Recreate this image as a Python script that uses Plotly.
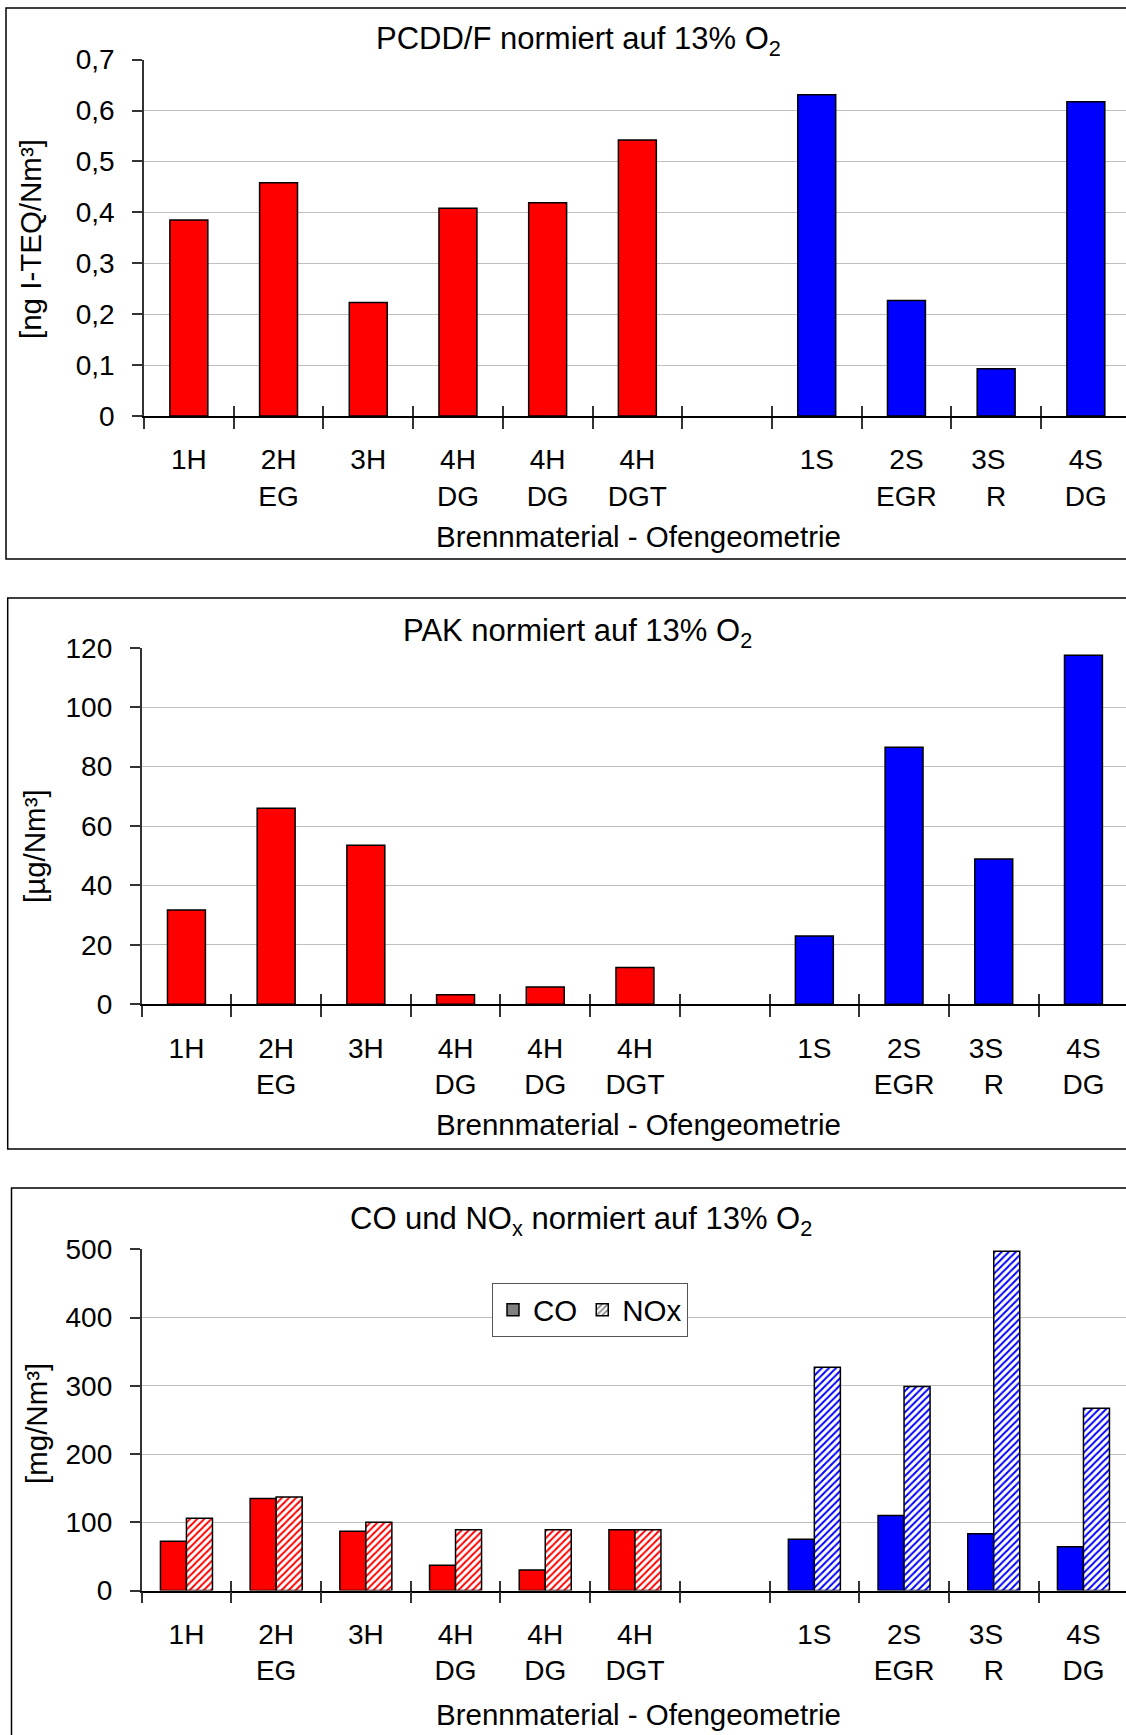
import plotly.graph_objects as go

# ---------------- data ----------------
categories = ["1H", "2H<br>EG", "3H", "4H<br>DG", "4H<br>DG", "4H<br>DGT", "",
              "1S", "2S<br>EGR", "3S\u00a0\u00a0<br>R", "4S<br>DG"]
pcdd = [0.385, 0.458, 0.223, 0.408, 0.419, 0.542, None, 0.631, 0.227, 0.093, 0.617]
pak = [31.7, 66.0, 53.5, 3.2, 5.8, 12.4, None, 23.0, 86.5, 48.9, 117.5]
co = [72, 135, 87, 37, 30, 89, None, 75, 110, 83, 64]
nox = [106, 137, 100, 89, 89, 89, None, 327, 299, 497, 267]

pcdd_ticks = [0, 0.1, 0.2, 0.3, 0.4, 0.5, 0.6, 0.7]
pcdd_ticktext = ["0", "0,1", "0,2", "0,3", "0,4", "0,5", "0,6", "0,7"]
pak_ticks = [0, 20, 40, 60, 80, 100, 120]
co_ticks = [0, 100, 200, 300, 400, 500]

title1 = "PCDD/F normiert auf 13% O<sub>2</sub>"
title2 = "PAK normiert auf 13% O<sub>2</sub>"
title3 = "CO und NO<sub>x</sub> normiert auf 13% O<sub>2</sub>"
ytitle1 = "[ng I-TEQ/Nm³]"
ytitle2 = "[µg/Nm³]"
ytitle3 = "[mg/Nm³]"
xtitle = "Brennmaterial - Ofengeometrie"
legend_names = ["CO", "NOx"]

# ---------------- helpers ----------------
W, H = 1126, 1735
FONT = "Liberation Sans, Arial, sans-serif"
RED, BLUE = "#FF0000", "#0000FF"


def px(x):
    return x / W


def py(y):
    return 1 - y / H


xs = list(range(len(categories)))
bounds = [i - 0.5 for i in range(len(categories) + 1)]


def fuel_color(lbl):
    head = lbl.split("<br>")[0].replace("\u00a0", "").strip()
    if head.endswith("S"):
        return BLUE
    return RED


colors = [fuel_color(c) for c in categories]

fig = go.Figure()

line = dict(color="black", width=1.5)

fig.add_trace(go.Bar(x=xs, y=pcdd, xaxis="x", yaxis="y", width=0.423,
                     marker=dict(color=colors, line=line), showlegend=False))
fig.add_trace(go.Bar(x=xs, y=pak, xaxis="x2", yaxis="y2", width=0.423,
                     marker=dict(color=colors, line=line), showlegend=False))
fig.add_trace(go.Bar(x=xs, y=co, xaxis="x3", yaxis="y3",
                     marker=dict(color=colors, line=line), showlegend=False))
fig.add_trace(go.Bar(x=xs, y=nox, xaxis="x3", yaxis="y3",
                     marker=dict(color="white", line=line,
                                 pattern=dict(shape="/", fgcolor=colors, bgcolor="white",
                                              fillmode="replace", size=5, solidity=0.4)),
                     showlegend=False))

# legend entries (grey, as in the original)
fig.add_trace(go.Bar(x=[None], y=[None], xaxis="x7", yaxis="y7", name=legend_names[0],
                     marker=dict(color="#808080", line=dict(color="black", width=1.5))))
fig.add_trace(go.Bar(x=[None], y=[None], xaxis="x7", yaxis="y7", name=legend_names[1],
                     marker=dict(color="white", line=dict(color="black", width=1.5),
                                 pattern=dict(shape="/", fgcolor="#808080", bgcolor="white",
                                              fillmode="replace", size=5, solidity=0.4))))

# dummy traces for inside-tick overlay axes
for xa, ya in (("x4", "y"), ("x5", "y2"), ("x6", "y3")):
    fig.add_trace(go.Scatter(x=[None], y=[None], xaxis=xa, yaxis=ya, showlegend=False,
                             hoverinfo="skip"))

tickfont = dict(family=FONT, size=28, color="black")

panels = [
    # (x-axis left px, y top px, y zero px, tickvals, ticktext)
    (144.0, 59.6, 416.0, pcdd_ticks, pcdd_ticktext),
    (141.6, 647.7, 1004.3, pak_ticks, [str(v) for v in pak_ticks]),
    (141.6, 1249.3, 1590.5, co_ticks, [str(v) for v in co_ticks]),
]
SLOT = 89.7

for i, (xl, ytop, yzero, tv, tt) in enumerate(panels, start=1):
    sfx = "" if i == 1 else str(i)
    dom_x = [px(xl), 1.0]
    xmax = -0.5 + (W - xl) / SLOT
    fig.layout["xaxis" + sfx] = dict(
        domain=dom_x, anchor="y" + sfx, range=[-0.5, xmax], automargin=False,
        tickmode="array", tickvals=xs, ticktext=categories,
        ticks="outside", ticklen=0, tickfont=tickfont, ticklabelstandoff=18,
        showgrid=False, zeroline=False, showline=True, linecolor="black", linewidth=1.5,
        minor=dict(tickmode="array", tickvals=bounds, ticks="outside", ticklen=11,
                   tickcolor="#333333", tickwidth=1.5, showgrid=False),
    )
    fig.layout["yaxis" + sfx] = dict(
        domain=[py(yzero), py(ytop)], anchor="x" + sfx, automargin=False,
        range=[0, tv[-1]], tickmode="array", tickvals=tv, ticktext=tt,
        ticks="outside", ticklen=10, tickcolor="#333333", tickwidth=1.5,
        tickfont=tickfont, ticklabelstandoff=12,
        showgrid=True, gridcolor="#C0C0C0", gridwidth=1.2,
        zeroline=False, showline=True, linecolor="#333333", linewidth=1.5,
    )
    ov = "xaxis" + str(i + 3)
    fig.layout[ov] = dict(
        overlaying="x" + sfx, anchor="y" + sfx, range=[-0.5, xmax], automargin=False,
        tickmode="array", tickvals=bounds, ticks="inside", ticklen=10,
        tickcolor="#333333", tickwidth=1.5, showticklabels=False,
        showgrid=False, zeroline=False, showline=False,
    )

fig.layout["xaxis7"] = dict(domain=[0, 0.01], anchor="y7", visible=False, automargin=False)
fig.layout["yaxis7"] = dict(domain=[0, 0.01], anchor="x7", visible=False, automargin=False)

annfont_t = dict(family=FONT, size=31, color="black")
annfont = dict(family=FONT, size=29.5, color="black")
ann = []
for txt, x, y in ((title1, 578, 41), (title2, 577, 633), (title3, 581, 1221)):
    ann.append(dict(text=txt, x=px(x), y=py(y), xref="paper", yref="paper",
                    xanchor="center", yanchor="middle", showarrow=False, font=annfont_t))
for y in (536, 1124, 1714):
    ann.append(dict(text=xtitle, x=px(638), y=py(y), xref="paper", yref="paper",
                    xanchor="center", yanchor="middle", showarrow=False, font=annfont))
for txt, x, y in ((ytitle1, 31, 239), (ytitle2, 34, 846), (ytitle3, 36, 1424)):
    ann.append(dict(text=txt, x=px(x), y=py(y), xref="paper", yref="paper",
                    xanchor="center", yanchor="middle", textangle=-90,
                    showarrow=False, font=annfont))

shapes = []
for x0, y0, y1 in ((6, 559, 8), (7.7, 1149, 598), (11.5, 1760, 1188)):
    shapes.append(dict(type="rect", xref="paper", yref="paper",
                       x0=px(x0), x1=1.05, y0=py(y0), y1=py(y1),
                       line=dict(color="black", width=1.5), fillcolor="rgba(0,0,0,0)",
                       layer="below"))

fig.update_layout(
    width=W, height=H, margin=dict(l=0, r=0, t=0, b=0, pad=0, autoexpand=False),
    paper_bgcolor="white", plot_bgcolor="white",
    barmode="group", bargap=0.42,
    font=dict(family=FONT, size=28, color="black"),
    annotations=ann, shapes=shapes,
    legend=dict(orientation="h", x=px(492), y=py(1283), xanchor="left", yanchor="top",
                bgcolor="white", bordercolor="#555555", borderwidth=1,
                font=dict(family=FONT, size=29.5, color="black"), itemwidth=30,
                traceorder="normal"),
    showlegend=True,
)

fig.write_html("out.html")
